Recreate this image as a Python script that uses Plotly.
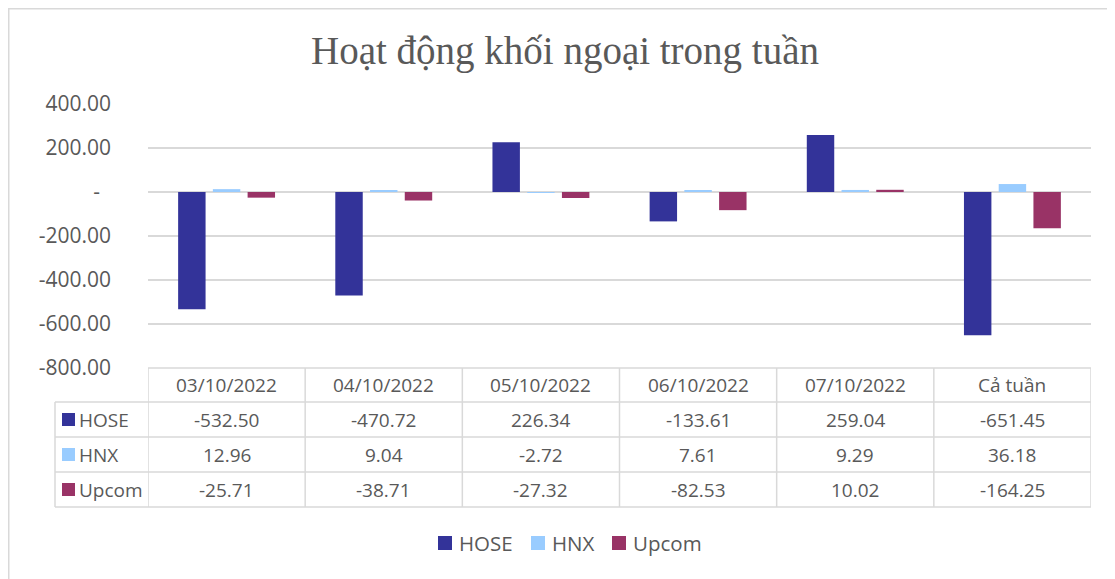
import plotly.graph_objects as go

categories = ["03/10/2022", "04/10/2022", "05/10/2022", "06/10/2022", "07/10/2022", "Cả tuần"]
series_names = ["HOSE", "HNX", "Upcom"]
hose = [-532.50, -470.72, 226.34, -133.61, 259.04, -651.45]
hnx = [12.96, 9.04, -2.72, 7.61, 9.29, 36.18]
upcom = [-25.71, -38.71, -27.32, -82.53, 10.02, -164.25]
series_values = [hose, hnx, upcom]
colors = ["#333399", "#99CCFF", "#993366"]
tick_vals = [400, 200, 0, -200, -400, -600, -800]
tick_text = ["400.00", "200.00", "-\u00a0\u00a0", "-200.00", "-400.00", "-600.00", "-800.00"]
title_text = "Hoạt động khối ngoại trong tuần"

PAGE_W, PAGE_H = 1115, 579
OFF = 8  # default body margin of the html page
W, H = PAGE_W - OFF, PAGE_H - OFF
L, R, T, B = 148, 1091, 104, 368  # plot area in page pixels
TXT = "#595959"
GRID = "#d9d9d9"

def px_x(px):
    return (px - L) / (R - L)

def px_y(py):
    return (B - py) / (B - T)

xidx = list(range(len(categories)))

fig = go.Figure()
for name, vals, col in zip(series_names, series_values, colors):
    fig.add_trace(go.Bar(x=xidx, y=vals, name=name, marker=dict(color=col, line=dict(width=0)),
                         showlegend=False))

shapes = []
annotations = []

row_y = [368, 402, 437, 472, 507]
label_left = 55

shapes.append(dict(type="line", xref="paper", yref="paper", x0=0, x1=1,
                   y0=px_y(row_y[0]), y1=px_y(row_y[0]), line=dict(color=GRID, width=1.5)))
for ry in row_y[1:]:
    shapes.append(dict(type="line", xref="paper", yref="paper", x0=px_x(label_left), x1=1,
                       y0=px_y(ry), y1=px_y(ry), line=dict(color=GRID, width=1.5)))
shapes.append(dict(type="line", xref="paper", yref="paper", x0=px_x(label_left), x1=px_x(label_left),
                   y0=px_y(row_y[1]), y1=px_y(row_y[-1]), line=dict(color=GRID, width=1.5)))
for i in range(len(categories) + 1):
    xb = i - 0.5
    shapes.append(dict(type="line", xref="x", yref="paper", x0=xb, x1=xb,
                       y0=px_y(row_y[0]), y1=px_y(row_y[-1]), line=dict(color=GRID, width=1.5)))

for i, c in enumerate(categories):
    annotations.append(dict(x=i, y=px_y((row_y[0] + row_y[1]) / 2), xref="x", yref="paper",
                            text=c, showarrow=False, xanchor="center", yanchor="middle",
                            font=dict(family="Open Sans", size=19, color=TXT)))
for r, (name, vals, col) in enumerate(zip(series_names, series_values, colors)):
    yc = (row_y[r + 1] + row_y[r + 2]) / 2
    for i, v in enumerate(vals):
        annotations.append(dict(x=i, y=px_y(yc), xref="x", yref="paper",
                                text=f"{v:.2f}", showarrow=False, xanchor="center", yanchor="middle",
                                font=dict(family="Open Sans", size=19, color=TXT)))
    shapes.append(dict(type="rect", xref="paper", yref="paper",
                       x0=px_x(62), x1=px_x(75), y0=px_y(yc - 6.5), y1=px_y(yc + 6.5),
                       fillcolor=col, line=dict(width=0)))
    annotations.append(dict(x=px_x(77), y=px_y(yc), xref="paper", yref="paper",
                            text=name, showarrow=False, xanchor="left", yanchor="middle",
                            font=dict(family="Open Sans", size=19, color=TXT)))

# legend (drawn manually to match Excel spacing)
legend_sq_x = [438, 531, 612]
legend_y = 543
for name, col, sx in zip(series_names, colors, legend_sq_x):
    shapes.append(dict(type="rect", xref="paper", yref="paper",
                       x0=px_x(sx), x1=px_x(sx + 14), y0=px_y(legend_y - 7), y1=px_y(legend_y + 7),
                       fillcolor=col, line=dict(width=0)))
    annotations.append(dict(x=px_x(sx + 19), y=px_y(legend_y), xref="paper", yref="paper",
                            text=name, showarrow=False, xanchor="left", yanchor="middle",
                            font=dict(family="Open Sans", size=20.5, color=TXT)))

# chart border (top & left visible)
shapes.append(dict(type="rect", xref="paper", yref="paper",
                   x0=px_x(8.75), x1=px_x(1130), y0=px_y(8.75), y1=px_y(600),
                   line=dict(color=GRID, width=1.5), fillcolor="rgba(0,0,0,0)", layer="below"))

fig.update_layout(
    width=W, height=H,
    margin=dict(l=L - OFF, r=PAGE_W - R, t=T - OFF, b=PAGE_H - B, autoexpand=False),
    paper_bgcolor="white", plot_bgcolor="white",
    barmode="group", bargap=0.337, bargroupgap=0.21,
    title=dict(text=title_text, x=(565 - OFF) / W, xref="container", xanchor="center",
               y=1 - (50 - OFF) / H, yref="container", yanchor="middle",
               font=dict(family="Liberation Serif", size=39, color=TXT)),
    showlegend=False,
    shapes=shapes, annotations=annotations,
)
fig.update_xaxes(range=[-0.5, 5.5], showticklabels=False, showgrid=False, zeroline=False,
                 showline=False, ticks="")
fig.update_yaxes(range=[-800, 400], tickvals=tick_vals, ticktext=tick_text, showgrid=True,
                 gridcolor=GRID, gridwidth=1.5, zeroline=True, zerolinecolor=GRID, zerolinewidth=1.5,
                 showline=False, ticks="", ticklabelstandoff=36,
                 tickfont=dict(family="Open Sans", size=21, color=TXT))

fig.write_html("out.html")
